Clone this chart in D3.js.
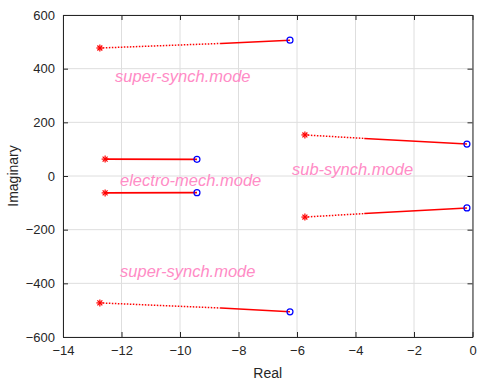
<!DOCTYPE html>
<html>
<head>
<meta charset="utf-8">
<script src="https://cdn.jsdelivr.net/npm/d3@7"></script>
<style>
  body { margin: 0; background: #fff; }
  text { font-family: "Liberation Sans", Arial, sans-serif; }
</style>
</head>
<body>
<div id="chart"></div>
<script>
// Eigenvalue trajectories: start (star), point where the track turns solid, end (circle)
const modeNames = ["super+", "sub+", "em+", "em-", "sub-", "super-"];
const startPts = [[-12.74, 477], [-5.73, 153], [-12.56, 63], [-12.56, -63], [-5.73, -153], [-12.74, -473]];
const solidFrom = [[-8.6, 494], [-3.7, 140], [-12.56, 63], [-12.56, -63], [-3.7, -140], [-8.6, -492]];
const endPts = [[-6.24, 506], [-0.19, 119], [-9.42, 62], [-9.42, -62], [-0.19, -119], [-6.24, -506]];

const labelText = ["super-synch.mode", "electro-mech.mode", "sub-synch.mode", "super-synch.mode"];
const labelPos = [[-12.22, 350], [-12.05, -37], [-6.17, 2], [-12.05, -378]];

const xTicks = [-14, -12, -10, -8, -6, -4, -2, 0];
const yTicks = [-600, -400, -200, 0, 200, 400, 600];

const margin = { top: 15, right: 9.5, bottom: 44, left: 63 },
      width = 482 - margin.left - margin.right,
      height = 381 - margin.top - margin.bottom;

const svg = d3.select("#chart")
    .append("svg")
    .attr("width", 482)
    .attr("height", 381)
    .append("g")
    .attr("transform", `translate(${margin.left},${margin.top})`);

const x = d3.scaleLinear().domain([-14, 0]).range([0, width]);
const y = d3.scaleLinear().domain([-600, 600]).range([height, 0]);

// grid
svg.append("g").selectAll("line").data(xTicks).enter().append("line")
    .attr("x1", d => x(d)).attr("x2", d => x(d))
    .attr("y1", 0).attr("y2", height)
    .attr("stroke", "#dedede").attr("stroke-width", 1);
svg.append("g").selectAll("line").data(yTicks).enter().append("line")
    .attr("y1", d => y(d)).attr("y2", d => y(d))
    .attr("x1", 0).attr("x2", width)
    .attr("stroke", "#dedede").attr("stroke-width", 1);

// axes (ticks pointing inward, box on)
const axStyle = g => {
    g.select(".domain").attr("stroke", "#262626");
    g.selectAll(".tick line").attr("stroke", "#262626");
    g.selectAll(".tick text").attr("fill", "#262626").style("font-size", "13px");
};
svg.append("g").attr("transform", `translate(0,${height})`)
    .call(d3.axisBottom(x).tickValues(xTicks).tickSizeInner(-5).tickSizeOuter(0).tickPadding(9))
    .call(axStyle);
svg.append("g")
    .call(d3.axisLeft(y).tickValues(yTicks).tickSizeInner(-5).tickSizeOuter(0).tickPadding(8))
    .call(axStyle);
svg.append("g")
    .call(d3.axisTop(x).tickValues(xTicks).tickSizeInner(-5).tickSizeOuter(0).tickFormat(""))
    .call(axStyle);
svg.append("g").attr("transform", `translate(${width},0)`)
    .call(d3.axisRight(y).tickValues(yTicks).tickSizeInner(-5).tickSizeOuter(0).tickFormat(""))
    .call(axStyle);

// axis labels
svg.append("text").attr("x", width / 2).attr("y", height + 41)
    .attr("text-anchor", "middle").style("font-size", "14px").attr("fill", "#262626").text("Real");
svg.append("text").attr("transform", `translate(${-45},${height / 2}) rotate(-90)`)
    .attr("text-anchor", "middle").style("font-size", "14px").attr("fill", "#262626").text("Imaginary");

// trajectories
const idx = d3.range(modeNames.length);
svg.append("g").selectAll("line").data(idx).enter().append("line")
    .attr("x1", i => x(startPts[i][0])).attr("y1", i => y(startPts[i][1]))
    .attr("x2", i => x(solidFrom[i][0])).attr("y2", i => y(solidFrom[i][1]))
    .attr("stroke", "#ff0000").attr("stroke-width", 1.5).attr("stroke-dasharray", "1.5,1.5");
svg.append("g").selectAll("line").data(idx).enter().append("line")
    .attr("x1", i => x(solidFrom[i][0])).attr("y1", i => y(solidFrom[i][1]))
    .attr("x2", i => x(endPts[i][0])).attr("y2", i => y(endPts[i][1]))
    .attr("stroke", "#ff0000").attr("stroke-width", 1.6);

// star markers
const star = svg.append("g").selectAll("g").data(startPts).enter().append("g")
    .attr("transform", d => `translate(${x(d[0])},${y(d[1])})`);
[0, 45, 90, 135].forEach(a => {
    star.append("line").attr("x1", -3.5).attr("x2", 3.5).attr("y1", 0).attr("y2", 0)
        .attr("transform", `rotate(${a})`)
        .attr("stroke", "#ff0000").attr("stroke-width", 1.2);
});

// circle markers
svg.append("g").selectAll("circle").data(endPts).enter().append("circle")
    .attr("cx", d => x(d[0])).attr("cy", d => y(d[1])).attr("r", 3)
    .attr("fill", "none").attr("stroke", "#0000ff").attr("stroke-width", 1.2);

// mode annotations
svg.append("g").selectAll("text").data(labelText).enter().append("text")
    .attr("x", (d, i) => x(labelPos[i][0])).attr("y", (d, i) => y(labelPos[i][1]))
    .style("font-size", "16.5px").style("font-style", "italic")
    .attr("fill", "#ff8cc6").text(d => d);
</script>
</body>
</html>
